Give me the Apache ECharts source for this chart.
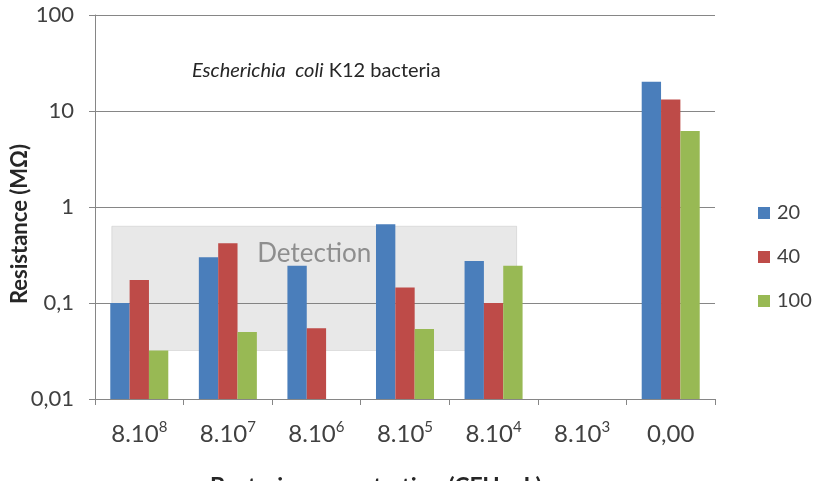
<!DOCTYPE html>
<html>
<head>
<meta charset="utf-8">
<script src="https://cdn.jsdelivr.net/npm/echarts@6/dist/echarts.min.js"></script>
<style>
  html, body { margin: 0; padding: 0; background: #fff; }
  #chart { width: 818px; height: 481px; }
</style>
</head>
<body>
<div id="chart"></div>
<script>
//== data
var categories = ['8.10^8', '8.10^7', '8.10^6', '8.10^5', '8.10^4', '8.10^3', '0,00'];
var seriesNames = ['20', '40', '100'];
var res20 = [0.1, 0.30, 0.245, 0.66, 0.274, null, 20.2];
var res40 = [0.174, 0.42, 0.0545, 0.145, 0.1, null, 13.2];
var res100 = [0.032, 0.05, null, 0.0536, 0.245, null, 6.2];
var yTicks = [0.01, 0.1, 1, 10, 100];
// detection zone: [xStart, xEnd] in category units, [yLow, yHigh] in MOhm
var detectionBox = [0.19, 4.76, 0.032, 0.63];

var colors = ['#4a7ebb', '#be4b48', '#98b954'];
var font = 'Lato, "Open Sans", sans-serif';

var formatTick = function (v) {
    var idx = -1;
    for (var i = 0; i < yTicks.length; i++) {
        if (Math.abs(Math.log10(v) - Math.log10(yTicks[i])) < 1e-6) idx = i;
    }
    var t = idx >= 0 ? yTicks[idx] : v;
    if (t < 1) return t.toFixed(Math.round(-Math.log10(t))).replace('.', ',');
    return String(t);
};

var formatCategory = function (v) {
    var parts = v.split('^');
    if (parts.length < 2) return '{b|' + v + '}';
    return '{b|' + parts[0] + '}{sup|' + parts[1] + '}';
};

var barSeries = [res20, res40, res100].map(function (values, i) {
    return {
        name: seriesNames[i],
        type: 'bar',
        xAxisIndex: 0,
        yAxisIndex: 0,
        data: values,
        barGap: '0%',
        barCategoryGap: '34.5%',
        itemStyle: { color: colors[i] },
        z: 3
    };
});

var detectionSeries = {
    type: 'custom',
    xAxisIndex: 1,
    yAxisIndex: 0,
    z: 1,
    silent: true,
    encode: { x: [0, 1], y: [2, 3] },
    data: [detectionBox],
    renderItem: function (params, api) {
        var p0 = api.coord([api.value(0), api.value(3)]);
        var p1 = api.coord([api.value(1), api.value(2)]);
        return {
            type: 'group',
            children: [{
                type: 'rect',
                shape: { x: p0[0], y: p0[1], width: p1[0] - p0[0], height: p1[1] - p0[1] },
                style: { fill: 'rgba(120,120,120,0.17)', stroke: 'rgba(200,200,200,0.5)', lineWidth: 1 }
            }, {
                type: 'text',
                style: {
                    text: 'Detection',
                    x: (p0[0] + p1[0]) / 2,
                    y: p0[1] + 27,
                    align: 'center',
                    verticalAlign: 'middle',
                    fill: '#8e8e8e',
                    font: '26px ' + font
                }
            }]
        };
    }
};

var chart = echarts.init(document.getElementById('chart'));
chart.setOption({
    backgroundColor: '#fff',
    animation: false,
    title: {
        text: '{i|Escherichia  coli} K12 bacteria',
        left: 187,
        top: 56,
        textStyle: {
            fontFamily: font,
            fontSize: 20,
            fontWeight: 'normal',
            color: '#262626',
            rich: {
                i: { fontFamily: font, fontSize: 20, fontStyle: 'italic', color: '#262626' }
            }
        }
    },
    legend: {
        orient: 'vertical',
        left: 753,
        top: 198,
        itemWidth: 12,
        itemHeight: 12,
        itemGap: 24,
        icon: 'rect',
        data: seriesNames,
        textStyle: { fontFamily: font, fontSize: 20, color: '#404040', padding: [0, 0, 0, 2] }
    },
    grid: { left: 95, right: 103, top: 15, bottom: 82, outerBoundsMode: 'none' },
    xAxis: [{
        type: 'category',
        data: categories,
        name: 'Bacteria concentration (CFU.mL)',
        nameLocation: 'middle',
        nameGap: 76,
        nameMoveOverlap: false,
        nameTextStyle: {
            fontFamily: font, fontSize: 23, fontWeight: 'bold', color: '#262626',
            padding: [0, 58, 0, 0]
        },
        axisLine: { lineStyle: { color: '#868686', width: 1 } },
        axisTick: { show: true, length: 6, lineStyle: { color: '#868686' } },
        axisLabel: {
            interval: 0,
            margin: 21,
            formatter: formatCategory,
            rich: {
                b: { fontFamily: font, fontSize: 24, color: '#404040', lineHeight: 28 },
                sup: { fontFamily: font, fontSize: 15, color: '#404040', verticalAlign: 'top', lineHeight: 28, padding: [0, 0, 12, 0] }
            }
        },
        splitLine: { show: false }
    }, {
        type: 'value',
        min: 0,
        max: 7,
        show: false
    }],
    yAxis: {
        type: 'log',
        logBase: 10,
        min: 0.01,
        max: 100,
        startValue: 0.01,
        name: 'Resistance (MΩ)',
        nameLocation: 'middle',
        nameRotate: 90,
        nameGap: 64,
        nameMoveOverlap: false,
        nameTextStyle: {
            fontFamily: font, fontSize: 22, fontWeight: 'bold', color: '#262626',
            padding: [0, 34, 0, 0]
        },
        axisLine: { show: true, lineStyle: { color: '#868686', width: 1 } },
        axisTick: { show: true, length: 6, lineStyle: { color: '#868686' } },
        axisLabel: {
            margin: 21,
            formatter: formatTick,
            fontFamily: font,
            fontSize: 22,
            color: '#404040'
        },
        splitLine: { show: true, lineStyle: { color: '#868686', width: 1 } },
        minorTick: { show: false },
        minorSplitLine: { show: false }
    },
    series: [detectionSeries].concat(barSeries)
});
</script>
</body>
</html>
